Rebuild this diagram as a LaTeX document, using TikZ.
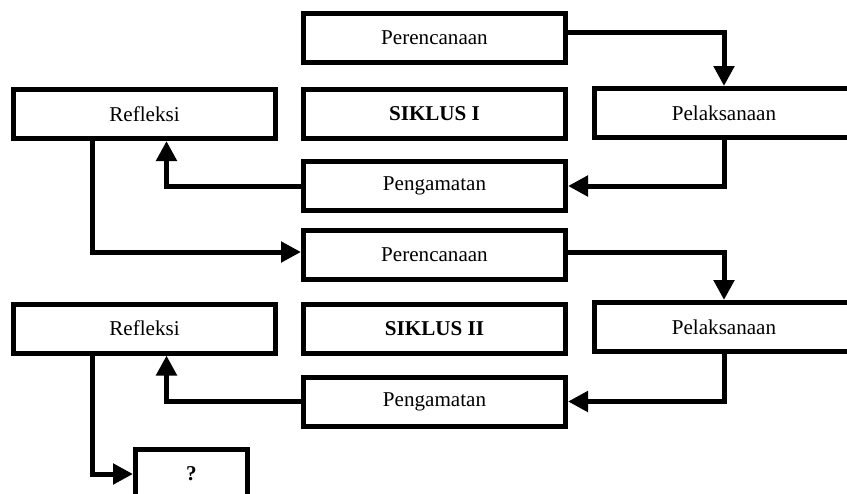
\documentclass[tikz,border=0pt]{standalone}
\usepackage{fontspec}
\setmainfont{Liberation Serif}
\usepackage{tikz}
\usetikzlibrary{arrows.meta, positioning, calc}

\begin{document}
\begin{tikzpicture}[
    box/.style={draw=black, line width=0.1cm, fill=white, minimum width=5.24cm,
                minimum height=0.98cm, inner sep=0pt, align=center, font=\fontsize{12}{14}\selectfont},
    flow/.style={draw=black, line width=0.1cm, -{Triangle[length=0.4cm, width=0.4cm]}},
]
    \useasboundingbox (0, 0) rectangle (16.94, -9.86);

    % siklus I
    \node[box] (perA) at (8.69, -0.76) {Perencanaan};
    \node[box] (siklA) at (8.69, -2.28) {\textbf{SIKLUS I}};
    \node[box] (pengA) at (8.69, -3.72) {Pengamatan};
    \node[box] (refA) at (2.89, -2.28) {Refleksi};
    \node[box, minimum width=5.18cm] (pelA) at (14.48, -2.26) {Pelaksanaan};

    % siklus II
    \node[box] (perB) at (8.69, -5.10) {Perencanaan};
    \node[box] (siklB) at (8.69, -6.58) {\textbf{SIKLUS II}};
    \node[box] (pengB) at (8.69, -8.03) {Pengamatan};
    \node[box] (refB) at (2.89, -6.57) {Refleksi};
    \node[box, minimum width=5.18cm] (pelB) at (14.48, -6.54) {Pelaksanaan};

    \node[box, minimum width=2.24cm] (tanya) at (3.83, -9.48) {\textbf{?}};

    \draw[flow] ([yshift=0.12cm]perA.east) -| (pelA.north);
    \draw[flow] (pelA.south) |- (pengA.east);
    \draw[flow] (pengA.west) -| ([xshift=0.44cm]refA.south);
    \draw[flow] ([xshift=-1.05cm]refA.south) |- ([yshift=0.06cm]perB.west);
    \draw[flow] ([yshift=0.06cm]perB.east) -| (pelB.north);
    \draw[flow] (pelB.south) |- (pengB.east);
    \draw[flow] (pengB.west) -| ([xshift=0.44cm]refB.south);
    \draw[flow] ([xshift=-1.05cm]refB.south) |- (tanya.west);
\end{tikzpicture}
\end{document}
